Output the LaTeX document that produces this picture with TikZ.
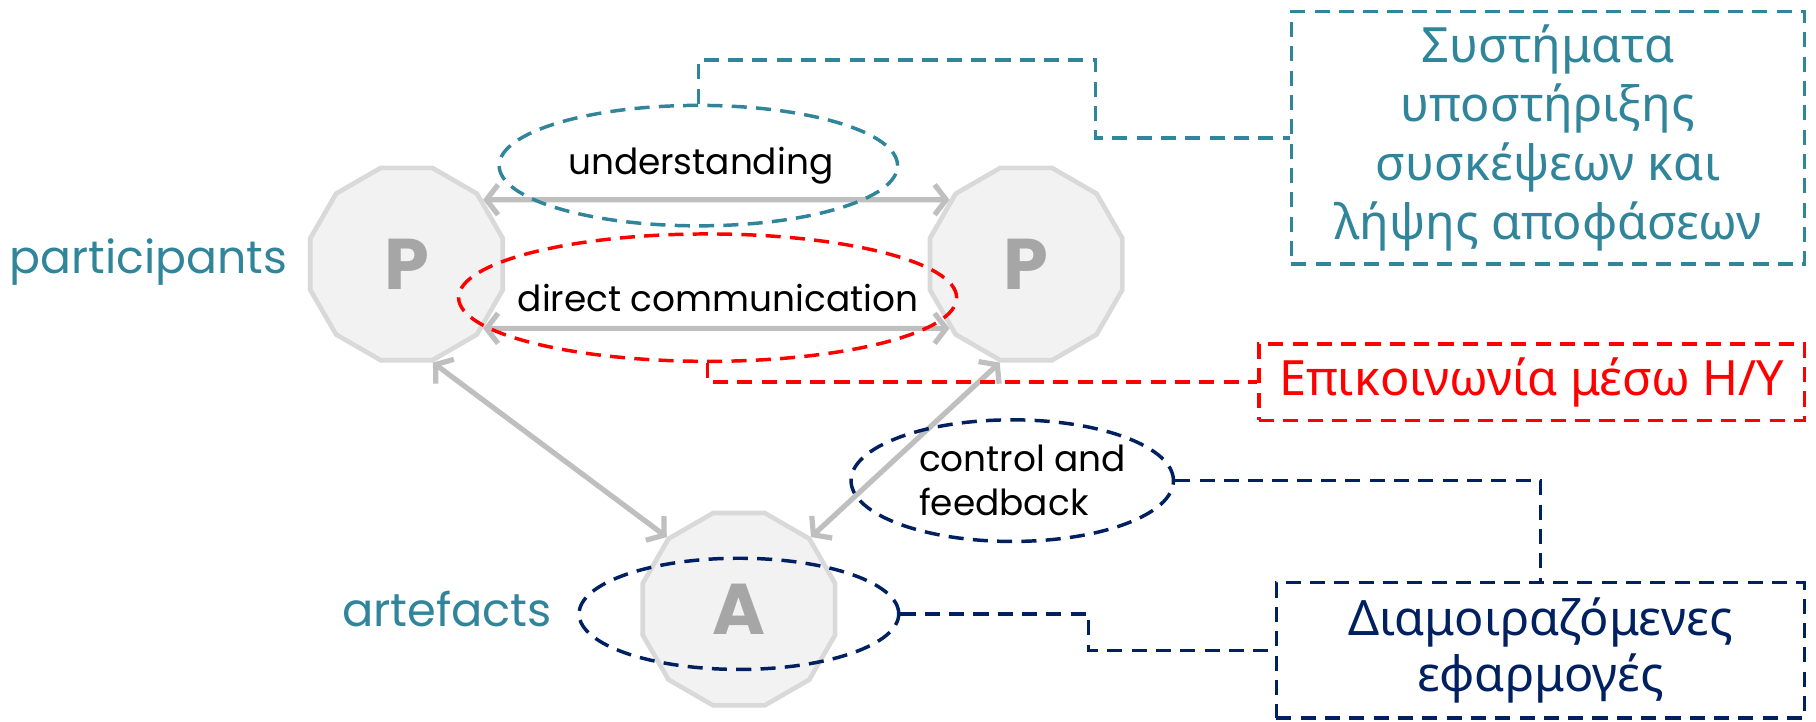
\documentclass[tikz,border=0pt]{standalone}
\usepackage{fontspec}
\setmainfont{Poppins}
\newfontfamily\grfont{Noto Sans}
\usetikzlibrary{shapes.geometric,arrows.meta}
\definecolor{tealc}{RGB}{49,133,155}
\definecolor{navyc}{RGB}{0,32,96}
\definecolor{redc}{RGB}{255,0,0}
\definecolor{polyfill}{RGB}{242,242,242}
\definecolor{polyline}{RGB}{217,217,217}
\definecolor{arrowgray}{RGB}{191,191,191}
\definecolor{lettergray}{RGB}{166,166,166}
\begin{document}
\begin{tikzpicture}[x=1pt,y=-1pt,
  dodec/.style={regular polygon, regular polygon sides=12, minimum size=172pt, fill=polyfill, draw=polyline, line width=4pt, inner sep=0pt, text=lettergray, font=\fontsize{62}{62}\selectfont\bfseries},
  link/.style={draw=arrowgray, line width=4.5pt, {Straight Barb[length=10pt,width=26pt]}-{Straight Barb[length=10pt,width=26pt]}},
  dashline/.style={line width=3pt, dash pattern=on 13pt off 8pt},
  oval/.style={ellipse, dashline, inner sep=0pt, text=black, font=\fontsize{31}{38}\selectfont},
  callout/.style={rectangle, dashline, inner sep=0pt, align=center, font=\grfont\fontsize{42}{51}\selectfont},
  conn/.style={dashline}
]
\useasboundingbox (0,0) rectangle (1568,623);

% polygons
\node[dodec] (P1) at (351,228) {P};
\node[dodec] (P2) at (886,228) {P};
\node[dodec] (A) at (638,526) {A};

% arrows
\draw[link] (P1.40) -- (P2.140);
\draw[link] (P1.-40) -- (P2.-140);
\draw[link] (P1.-75) -- (A.135);
\draw[link] (P2.-105) -- (A.45);

% ovals
\node[oval, draw=tealc, minimum width=344pt, minimum height=104pt] (U) at (603,143) {\makebox[0pt]{\hspace{4pt}understanding}};
\node[oval, draw=redc, minimum width=430pt, minimum height=110pt] (D) at (611,257) {\makebox[0pt]{\hspace{18pt}direct communication}};
\node[oval, draw=navyc, minimum width=276pt, minimum height=105pt, align=left] (C) at (874,415) {\hspace{18pt}control and\\\hspace{18pt}feedback};
\node[oval, draw=navyc, minimum width=276pt, minimum height=96pt] (AE) at (638,530) {};

% side labels
\node[text=tealc, font=\fontsize{39.5}{40}\selectfont, anchor=base] (lp) at (128,236) {participants};
\node[text=tealc, font=\fontsize{40}{40}\selectfont, anchor=base] (la) at (386,541) {artefacts};

% boxes
\node[callout, draw=tealc, text=tealc, minimum width=443pt, minimum height=218pt] (T) at (1336.5,119) {Συστήματα\\υποστήριξης\\συσκέψεων και\\λήψης αποφάσεων};
\node[callout, draw=redc, text=redc, minimum width=471pt, minimum height=66pt] (R) at (1322.5,330) {Επικοινωνία μέσω Η/Υ};
\node[callout, draw=navyc, text=navyc, minimum width=456pt, minimum height=117pt, font=\grfont\fontsize{42}{48}\selectfont] (N) at (1330,561.5) {Διαμοιραζόμενες\\εφαρμογές};

% connectors
\coordinate (t1) at (946,52);
\coordinate (n1) at (940,530);
\draw[conn, tealc] (U.north) |- (t1) |- (T.west);
\draw[conn, redc] (D.south) |- (R.west);
\draw[conn, navyc] (C.east) -| (N.north);
\draw[conn, navyc] (AE.east) -- (n1) |- (N.west);
\end{tikzpicture}
\end{document}
